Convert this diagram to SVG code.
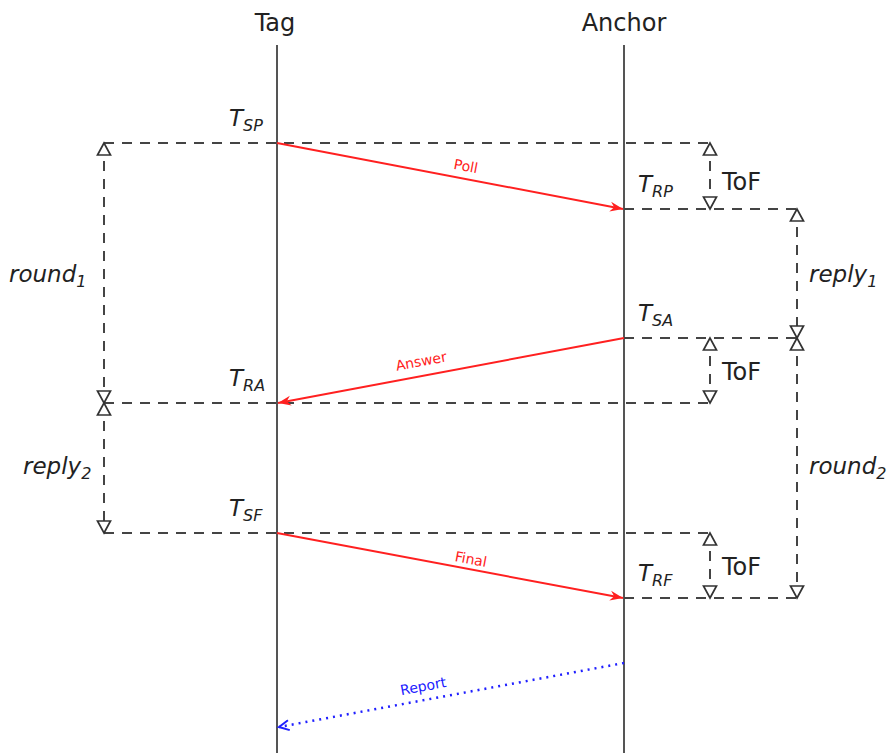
<svg xmlns="http://www.w3.org/2000/svg" width="893" height="753" viewBox="0 0 893 753">
<style>
.life{stroke:#555;stroke-width:2;fill:none}
.dash{stroke:#444;stroke-width:2;stroke-dasharray:10 8;fill:none}
.vd{stroke:#444;stroke-width:2;stroke-dasharray:10 8;fill:none;marker-start:url(#tri);marker-end:url(#tri)}
.msg{stroke:#ff2020;stroke-width:2;fill:none;marker-end:url(#red)}
.rep{stroke:#2020ff;stroke-width:2.5;stroke-dasharray:2 5;fill:none;marker-end:url(#blue)}
.hd{font-family:"DejaVu Sans",sans-serif;font-size:24px;fill:#222}
.it{font-family:"DejaVu Sans",sans-serif;font-style:italic;font-size:23px;fill:#222}
.sub{font-size:16px}
.tof{font-family:"DejaVu Sans",sans-serif;font-size:24px;fill:#222}
.ml{font-family:"DejaVu Sans",sans-serif;font-size:14px;text-anchor:middle}
</style>
<defs>
<marker id="tri" markerUnits="userSpaceOnUse" markerWidth="16" markerHeight="16" viewBox="-1 -8 15 16" refX="12" refY="0" orient="auto-start-reverse">
<path d="M12,0 L0,-6.5 L0,6.5 Z" fill="#fff" stroke="#333" stroke-width="1.7"/>
</marker>
<marker id="red" markerUnits="userSpaceOnUse" markerWidth="14" markerHeight="12" viewBox="0 -6 14 12" refX="13" refY="0" orient="auto">
<path d="M13,0 L0,-5 L4,0 L0,5 Z" fill="#ff2020"/>
</marker>
<marker id="blue" markerUnits="userSpaceOnUse" markerWidth="14" markerHeight="12" viewBox="0 -6 14 12" refX="11" refY="0" orient="auto">
<path d="M1,-5 L11,0 L1,5" fill="none" stroke="#2020ff" stroke-width="2"/>
</marker>
</defs>

<g id="tag">
<text class="hd" x="275" y="31" text-anchor="middle">Tag</text>
<line class="life" x1="277" y1="45" x2="277" y2="753"/>
</g>
<g id="anchor">
<text class="hd" x="624" y="31" text-anchor="middle">Anchor</text>
<line class="life" x1="624" y1="45" x2="624" y2="753"/>
</g>

<g id="timestamps">
<text class="it" x="229" y="126">T<tspan class="sub" dy="5">SP</tspan></text>
<text class="it" x="638" y="192">T<tspan class="sub" dy="5">RP</tspan></text>
<text class="it" x="638" y="321">T<tspan class="sub" dy="5">SA</tspan></text>
<text class="it" x="229" y="386">T<tspan class="sub" dy="5">RA</tspan></text>
<text class="it" x="229" y="516">T<tspan class="sub" dy="5">SF</tspan></text>
<text class="it" x="638" y="581">T<tspan class="sub" dy="5">RF</tspan></text>
</g>

<g id="intervals">
<text class="it" x="9" y="282">round<tspan class="sub" dy="5">1</tspan></text>
<text class="it" x="23" y="474">reply<tspan class="sub" dy="5">2</tspan></text>
<text class="it" x="809" y="282">reply<tspan class="sub" dy="5">1</tspan></text>
<text class="it" x="809" y="474">round<tspan class="sub" dy="5">2</tspan></text>
<text class="tof" x="722" y="190">ToF</text>
<text class="tof" x="722" y="380">ToF</text>
<text class="tof" x="722" y="575">ToF</text>
</g>

<g id="connectors">
<line class="dash" x1="104" y1="143" x2="710" y2="143"/>
<line class="dash" x1="624" y1="209" x2="797" y2="209"/>
<line class="dash" x1="624" y1="338" x2="797" y2="338"/>
<line class="dash" x1="104" y1="403" x2="710" y2="403"/>
<line class="dash" x1="104" y1="533" x2="710" y2="533"/>
<line class="dash" x1="624" y1="598" x2="797" y2="598"/>

<line class="vd" x1="104" y1="143" x2="104" y2="403"/>
<line class="vd" x1="104" y1="403" x2="104" y2="533"/>
<line class="vd" x1="710" y1="143" x2="710" y2="209"/>
<line class="vd" x1="710" y1="338" x2="710" y2="403"/>
<line class="vd" x1="710" y1="533" x2="710" y2="598"/>
<line class="vd" x1="797" y1="209" x2="797" y2="338"/>
<line class="vd" x1="797" y1="338" x2="797" y2="598"/>

<line class="msg" x1="277" y1="143" x2="623" y2="209"/>
<line class="msg" x1="624" y1="338" x2="278" y2="403"/>
<line class="msg" x1="277" y1="533" x2="623" y2="598"/>
<line class="rep" x1="624" y1="663" x2="279" y2="727"/>

<text class="ml" fill="#ff2020" transform="translate(465,171) rotate(10.8)">Poll</text>
<text class="ml" fill="#ff2020" transform="translate(422,366) rotate(-10.6)">Answer</text>
<text class="ml" fill="#ff2020" transform="translate(470,564) rotate(10.6)">Final</text>
<text class="ml" fill="#2020ff" transform="translate(424,691) rotate(-10.5)">Report</text>
</g>
</svg>
